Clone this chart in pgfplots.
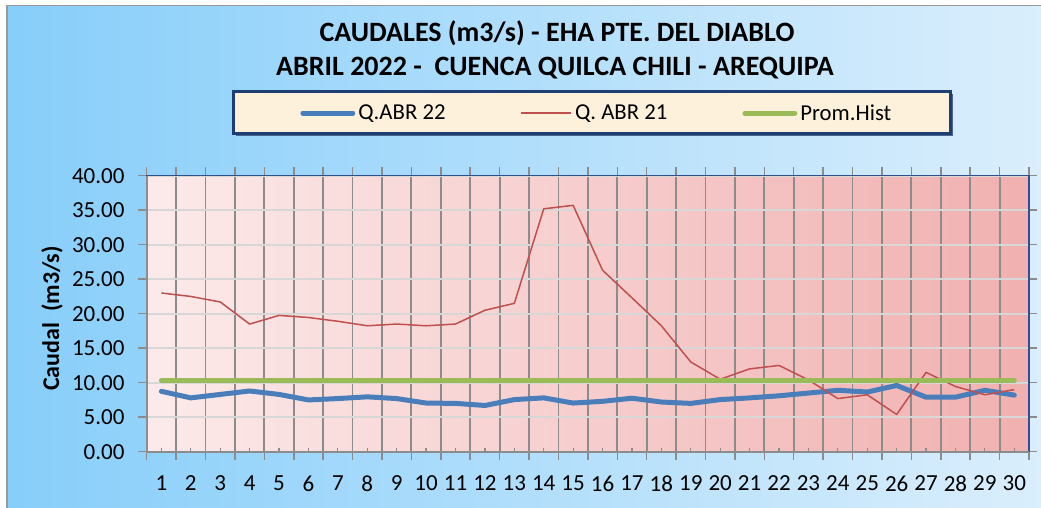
\documentclass[border=0pt]{standalone}
\usepackage{fontspec}
\setmainfont{Carlito}
\usepackage{pgfplots}
\pgfplotsset{compat=1.18}
\definecolor{bgL}{RGB}{135,206,250}
\definecolor{bgR}{RGB}{218,238,252}
\definecolor{pkL}{RGB}{252,234,234}
\definecolor{pkR}{RGB}{241,176,176}
\definecolor{qblue}{RGB}{74,126,187}
\definecolor{qred}{RGB}{192,80,77}
\definecolor{qgreen}{RGB}{155,187,89}
\definecolor{legfill}{RGB}{253,241,220}
\definecolor{legbord}{RGB}{31,62,115}
\definecolor{gridd}{RGB}{140,140,140}
\definecolor{gridl}{RGB}{215,215,215}
\definecolor{plotbord}{RGB}{47,79,143}

\pgfplotstableread{
x y
1 8.75
2 7.8
3 8.3
4 8.8
5 8.3
6 7.5
7 7.7
8 7.95
9 7.7
10 7.05
11 7.0
12 6.7
13 7.55
14 7.8
15 7.05
16 7.3
17 7.75
18 7.2
19 7.0
20 7.55
21 7.8
22 8.1
23 8.5
24 8.9
25 8.65
26 9.6
27 7.9
28 7.9
29 8.9
30 8.2
}\abrtwotwo

\pgfplotstableread{
x y
1 23.0
2 22.5
3 21.7
4 18.5
5 19.75
6 19.45
7 18.9
8 18.25
9 18.5
10 18.25
11 18.5
12 20.5
13 21.5
14 35.2
15 35.7
16 26.3
17 22.3
18 18.25
19 13.0
20 10.5
21 12.0
22 12.5
23 10.4
24 7.7
25 8.25
26 5.4
27 11.5
28 9.45
29 8.25
30 9.0
}\abrtwoone

\pgfplotstableread{
x y
1 10.3
30 10.3
}\promhist

\begin{document}
\begin{tikzpicture}[x=1pt,y=1pt]
\useasboundingbox (0,0) rectangle (1041,508);
\fill[white] (0,0) rectangle (1041,508);
\shade[left color=bgL, right color=bgR] (7,0) rectangle (1041,502.5);
\draw[gray!80, line width=1.5pt] (7,0) -- (7,502.5) -- (1041,502.5);
\node[font=\bfseries\fontsize{28}{32}\selectfont] at (557,475) {CAUDALES (m3/s) - EHA PTE. DEL DIABLO};
\node[font=\bfseries\fontsize{28}{32}\selectfont] at (555,440) {ABRIL 2022 -\ \ CUENCA QUILCA CHILI - AREQUIPA};
\fill[legbord!80] (235.5,372.2) rectangle (952.5,414.3);
\draw[fill=legfill, draw=legbord, line width=3pt] (233.5,374.7) rectangle (950,416.3);
\node[rotate=90, font=\bfseries\fontsize{24}{28}\selectfont] at (52,189.5) {Caudal\ \ (m3/s)};
\begin{axis}[
  scale only axis, width=882.3pt, height=276pt,
  at={(146.7pt,56.3pt)}, anchor=south west,
  xmin=0.5, xmax=30.5, ymin=0, ymax=40,
  clip=false,
  axis background/.style={left color=pkL, right color=pkR},
  axis line style={draw=plotbord, line width=1.5pt},
  tick align=outside, major tick length=8.4pt,
  tick style={draw=gridd, line width=1.5pt},
  xtick={0.5,1.5,...,30.5}, xticklabels={},
  extra x ticks={1,2,...,30},
  extra x tick labels={1,2,3,4,5,6,7,8,9,10,11,12,13,14,15,16,17,18,19,20,21,22,23,24,25,26,27,28,29,30},
  extra x tick style={grid=none, major tick length=0pt},
  xmajorgrids, ymajorgrids,
  x grid style={draw=gridd, line width=1.8pt},
  y grid style={draw=gridl, line width=1.8pt},
  ytick={0,5,...,40},
  /pgf/number format/assume math mode=true,
  yticklabel style={/pgf/number format/.cd, fixed, fixed zerofill, precision=2, /tikz/.cd,
     font=\fontsize{23}{27}\selectfont, anchor=east, inner sep=0pt, xshift=-13.6pt},
  xticklabel style={font=\fontsize{23}{27}\selectfont, anchor=north, inner sep=0pt, yshift=-24pt},
  legend columns=3,
  legend style={at={(axis description cs:0.509,1.227)}, anchor=center, draw=none, fill=none,
     font=\fontsize{22.75}{26}\selectfont, nodes={inner sep=0pt},
     /tikz/every odd column/.append style={column sep=3pt},
     /tikz/every even column/.append style={column sep=75pt}},
  legend cell align=left,
  legend image code/.code={\draw[#1] (0pt,0pt) -- (50pt,0pt);},
]
\addplot[qblue, line width=5pt, line join=round, line cap=round] table[x=x,y=y] {\abrtwotwo};
\addlegendentry{Q.ABR 22}
\addplot[qred, line width=1.5pt, line join=round] table[x=x,y=y] {\abrtwoone};
\addlegendentry{Q. ABR 21}
\addplot[qgreen, line width=5pt, line cap=round] table[x=x,y=y] {\promhist};
\addlegendentry{Prom.Hist}
\draw[gridd, line width=2pt] (rel axis cs:0,1) -- (rel axis cs:0,0) -- (rel axis cs:1,0);
\pgfplotsinvokeforeach{1,...,30}{\draw[gridd, line width=1.2pt] (axis cs:#1,0) -- ++(0pt,4pt);}
\end{axis}
\end{tikzpicture}
\end{document}
